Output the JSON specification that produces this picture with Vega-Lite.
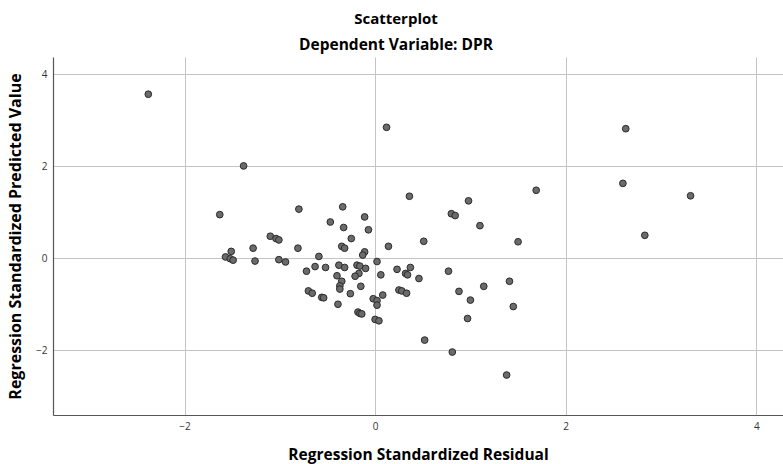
{
  "$schema": "https://vega.github.io/schema/vega-lite/v6.json",
  "width": 730,
  "height": 358,
  "autosize": {"type": "none"},
  "padding": {"left": 53, "top": 57, "right": 0, "bottom": 49},
  "background": "white",
  "config": {
    "view": {"stroke": null},
    "font": "Open Sans"
  },
  "title": {
    "text": "Scatterplot",
    "subtitle": "Dependent Variable: DPR",
    "anchor": "middle",
    "dx": -22,
    "font": "Open Sans",
    "fontSize": 15,
    "fontWeight": "bold",
    "color": "#000000",
    "subtitleFont": "Open Sans",
    "subtitleFontSize": 15.5,
    "subtitleFontWeight": "bold",
    "subtitleColor": "#000000",
    "subtitlePadding": 11,
    "offset": 4
  },
  "data": {
    "values": [
      {"residual": -2.38, "predicted": 3.57},
      {"residual": -1.38, "predicted": 2.01},
      {"residual": -1.63, "predicted": 0.95},
      {"residual": -0.80, "predicted": 1.07},
      {"residual": -1.10, "predicted": 0.48},
      {"residual": -1.04, "predicted": 0.43},
      {"residual": -1.01, "predicted": 0.40},
      {"residual": -1.28, "predicted": 0.22},
      {"residual": -0.81, "predicted": 0.22},
      {"residual": -0.34, "predicted": 1.12},
      {"residual": -0.11, "predicted": 0.90},
      {"residual": -0.47, "predicted": 0.79},
      {"residual": -0.33, "predicted": 0.67},
      {"residual": -0.07, "predicted": 0.62},
      {"residual": -0.25, "predicted": 0.43},
      {"residual": -0.35, "predicted": 0.26},
      {"residual": -0.32, "predicted": 0.22},
      {"residual": -0.11, "predicted": 0.14},
      {"residual": -0.13, "predicted": 0.07},
      {"residual": -1.51, "predicted": 0.15},
      {"residual": -1.57, "predicted": 0.03},
      {"residual": -1.52, "predicted": -0.01},
      {"residual": -1.49, "predicted": -0.04},
      {"residual": -1.26, "predicted": -0.06},
      {"residual": -1.01, "predicted": -0.03},
      {"residual": -0.94, "predicted": -0.08},
      {"residual": -0.59, "predicted": 0.04},
      {"residual": 0.02, "predicted": -0.07},
      {"residual": -0.72, "predicted": -0.28},
      {"residual": -0.63, "predicted": -0.18},
      {"residual": -0.52, "predicted": -0.20},
      {"residual": -0.38, "predicted": -0.15},
      {"residual": -0.32, "predicted": -0.20},
      {"residual": -0.19, "predicted": -0.15},
      {"residual": -0.16, "predicted": -0.17},
      {"residual": -0.10, "predicted": -0.22},
      {"residual": -0.17, "predicted": -0.33},
      {"residual": -0.21, "predicted": -0.39},
      {"residual": -0.40, "predicted": -0.38},
      {"residual": -0.35, "predicted": -0.50},
      {"residual": -0.37, "predicted": -0.60},
      {"residual": -0.37, "predicted": -0.67},
      {"residual": -0.15, "predicted": -0.61},
      {"residual": -0.26, "predicted": -0.77},
      {"residual": -0.70, "predicted": -0.71},
      {"residual": -0.66, "predicted": -0.76},
      {"residual": -0.56, "predicted": -0.85},
      {"residual": -0.54, "predicted": -0.86},
      {"residual": -0.39, "predicted": -1.00},
      {"residual": -0.18, "predicted": -1.17},
      {"residual": -0.16, "predicted": -1.20},
      {"residual": -0.14, "predicted": -1.21},
      {"residual": -0.02, "predicted": -0.88},
      {"residual": 0.02, "predicted": -0.92},
      {"residual": 0.02, "predicted": -1.02},
      {"residual": 0.00, "predicted": -1.33},
      {"residual": 0.04, "predicted": -1.36},
      {"residual": 0.08, "predicted": -0.80},
      {"residual": 0.06, "predicted": -0.36},
      {"residual": 0.14, "predicted": 0.26},
      {"residual": 0.36, "predicted": 1.35},
      {"residual": 0.51, "predicted": 0.37},
      {"residual": 0.23, "predicted": -0.24},
      {"residual": 0.37, "predicted": -0.20},
      {"residual": 0.32, "predicted": -0.33},
      {"residual": 0.34, "predicted": -0.36},
      {"residual": 0.46, "predicted": -0.44},
      {"residual": 0.25, "predicted": -0.69},
      {"residual": 0.28, "predicted": -0.71},
      {"residual": 0.33, "predicted": -0.76},
      {"residual": 0.77, "predicted": -0.28},
      {"residual": 0.88, "predicted": -0.72},
      {"residual": 1.00, "predicted": -0.91},
      {"residual": 0.97, "predicted": -1.31},
      {"residual": 0.52, "predicted": -1.78},
      {"residual": 0.98, "predicted": 1.25},
      {"residual": 0.80, "predicted": 0.97},
      {"residual": 0.84, "predicted": 0.93},
      {"residual": 1.10, "predicted": 0.71},
      {"residual": 0.12, "predicted": 2.85},
      {"residual": 1.69, "predicted": 1.48},
      {"residual": 1.50, "predicted": 0.36},
      {"residual": 1.14, "predicted": -0.61},
      {"residual": 1.41, "predicted": -0.50},
      {"residual": 1.45, "predicted": -1.05},
      {"residual": 0.81, "predicted": -2.04},
      {"residual": 1.38, "predicted": -2.54},
      {"residual": 2.63, "predicted": 2.82},
      {"residual": 2.60, "predicted": 1.63},
      {"residual": 3.31, "predicted": 1.36},
      {"residual": 2.83, "predicted": 0.50}
    ]
  },
  "mark": {
    "type": "point",
    "shape": "circle",
    "filled": true,
    "size": 45,
    "fill": "#6b6b6b",
    "stroke": "#2b2b2b",
    "strokeWidth": 1,
    "opacity": 1
  },
  "encoding": {
    "x": {
      "field": "residual",
      "type": "quantitative",
      "scale": {"domain": [-3.38, 4.28], "nice": false, "zero": false},
      "axis": {
        "title": "Regression Standardized Residual",
        "values": [-2, 0, 2, 4],
        "grid": true,
        "gridColor": "#c4c4c4",
        "gridWidth": 1,
        "ticks": false,
        "domainColor": "#555555",
        "domainWidth": 1.2,
        "labelFont": "Open Sans",
        "labelFontSize": 10,
        "labelColor": "#333333",
        "labelPadding": 6,
        "labelBaseline": "top",
        "titleFont": "Open Sans",
        "titleFontSize": 15.5,
        "titleFontWeight": "bold",
        "titleColor": "#000000",
        "titleBaseline": "middle",
        "titleY": 39
      }
    },
    "y": {
      "field": "predicted",
      "type": "quantitative",
      "scale": {"domain": [-3.41, 4.38], "nice": false, "zero": false},
      "axis": {
        "title": "Regression Standardized Predicted Value",
        "values": [-2, 0, 2, 4],
        "grid": true,
        "gridColor": "#c4c4c4",
        "gridWidth": 1,
        "ticks": false,
        "domainColor": "#555555",
        "domainWidth": 1.2,
        "labelFont": "Open Sans",
        "labelFontSize": 10,
        "labelColor": "#333333",
        "labelPadding": 6,
        "titleFont": "Open Sans",
        "titleFontSize": 16,
        "titleFontWeight": "bold",
        "titleColor": "#000000",
        "titleBaseline": "middle",
        "titleX": -38
      }
    }
  }
}
